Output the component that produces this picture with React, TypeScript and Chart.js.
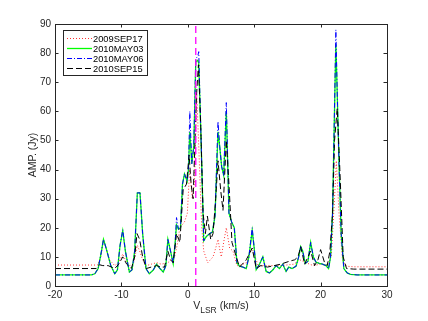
import React, { useEffect, useRef } from 'react';
import { Chart, registerables } from 'chart.js';

Chart.register(...registerables);

// ---------- data ----------
const seriesLabels = ['2009SEP17', '2010MAY03', '2010MAY06', '2010SEP15'];
const xTicks = [-20, -10, 0, 10, 20, 30];
const yTicks = [0, 10, 20, 30, 40, 50, 60, 70, 80, 90];
const referenceVelocity = 1.2;

const velSep17 = [-20, -13.6, -13.1, -12.7, -12.3, -11.8, -11.0, -10.4, -9.8, -9.2, -8.75, -8.2, -7.6, -7.25, -6.8, -6.25, -5.5, -4.7, -4.0, -3.0, -2.0, -1.6, -1.2, -0.5, -0.07, 0.28, 0.68, 1.0, 1.35, 1.78, 2.1, 2.4, 3.0, 3.8, 4.2, 4.55, 4.85, 5.05, 5.4, 5.8, 6.3, 6.8, 7.4, 7.8, 8.8, 9.67, 10.6, 12, 14, 16, 16.85, 17.8, 18.9, 20, 20.9, 21.6, 22.1, 22.37, 22.77, 23.3, 23.9, 25, 30];
const ampSep17 = [7.2, 7.2, 10, 16, 13, 9, 7, 8, 11, 8, 7, 7.5, 14, 12, 9, 7, 7.5, 8, 7.5, 8, 10, 14, 20, 22, 25, 40, 30, 35, 66, 40, 20, 12, 8, 10, 13, 16, 12, 10, 15, 20, 13, 12, 7, 7, 8, 13, 7, 7, 7, 7.5, 9, 8, 7, 7.5, 7, 10, 30, 43, 25, 9, 6.8, 6.6, 6.6];

const velMay = [-20, -14.5, -14.0, -13.5, -13.0, -12.7, -12.3, -11.6, -11.0, -10.6, -10.2, -9.8, -9.4, -8.8, -8.4, -8.0, -7.6, -7.2, -6.8, -6.3, -5.8, -5.2, -4.7, -4.2, -3.7, -3.3, -3.0, -2.6, -2.2, -1.9, -1.7, -1.4, -1.1, -0.8, -0.5, -0.1, 0.1, 0.3, 0.6, 0.9, 1.2, 1.5, 1.65, 2.0, 2.4, 2.8, 3.3, 3.7, 4.1, 4.55, 4.8, 5.1, 5.4, 5.8, 6.2, 6.6, 7.0, 7.4, 7.8, 8.3, 8.8, 9.2, 9.7, 10.0, 10.3, 10.8, 11.3, 11.8, 12.3, 12.8, 13.3, 13.8, 14.3, 14.8, 15.2, 15.7, 16.3, 16.7, 17.0, 17.3, 17.7, 18.1, 18.5, 18.9, 19.3, 19.8, 20.3, 20.8, 21.2, 21.5, 21.8, 22.05, 22.3, 22.55, 22.8, 23.1, 23.5, 24.0, 24.5, 25.5, 30];
const ampMay03 = [3.8, 3.8, 4.2, 6, 12, 16, 13, 7, 4.2, 5.5,
  14, 19, 12, 4.8, 5.5, 12, 32, 32, 18, 6,
  4.2, 5.5, 7.5, 6, 4.8, 7, 16, 12, 7.7, 15,
  21, 19.5, 20, 35, 38.5, 36, 40, 53, 42, 48,
  77, 77.5, 76.5, 50, 15.5, 17, 18, 18.5, 24, 53,
  48, 41, 38, 60, 25, 22, 20, 8, 6.8, 6.5,
  6, 10, 19, 13, 5.6, 7.5, 10, 5, 4.5, 5.5,
  7, 6, 7.5, 5, 6.5, 6, 6.8, 10, 13.5, 12,
  7.7, 8.5, 15, 10, 8.2, 7.8, 7.5, 7, 6, 10,
  25, 55, 83, 62, 40, 18, 6, 4.5, 4, 3.8,
  3.8];
const ampMay06 = [3.8, 3.8, 4.2, 6, 12, 16, 13, 7, 4.2, 5.5,
  14, 19.3, 12, 4.8, 5.5, 12, 32, 32, 18, 6,
  4.2, 5.5, 7.5, 6, 4.8, 7, 16, 12, 7.7, 15,
  23.5, 19.5, 20, 35, 38.5, 36, 40, 60, 42, 48,
  78, 79, 80.5, 50, 15.5, 17, 18, 18.5, 24, 56.5,
  48, 41, 38, 63, 25, 22, 20, 8, 6.8, 6.5,
  6, 10, 20, 13, 5.6, 7.5, 10, 5, 4.5, 5.5,
  7, 6, 7.5, 5, 6.5, 6, 6.8, 10, 13.5, 12,
  7.7, 8.5, 15, 10, 8.2, 7.8, 7.5, 7, 6, 10,
  25, 55, 88, 62, 40, 18, 6, 4.5, 4, 3.8,
  3.8];

const velSep15 = [-20, -13.8, -13.3, -12.8, -12.0, -11.0, -10.4, -9.8, -9.2, -8.5, -8.0, -7.65, -7.25, -6.8, -6.25, -5.5, -4.7, -4.0, -3.5, -3.0, -2.6, -2.2, -1.7, -1.2, -0.7, -0.2, 0.2, 0.5, 0.8, 1.3, 1.6, 1.95, 2.3, 2.65, 2.95, 3.45, 3.8, 4.2, 4.55, 4.95, 5.3, 5.8, 6.2, 6.65, 7.3, 7.8, 8.8, 9.7, 10.3, 11.0, 12.0, 13.0, 14.0, 15.3, 16.1, 16.6, 17.0, 17.6, 18.5, 19.1, 19.6, 20.0, 20.6, 21.0, 21.4, 21.8, 22.1, 22.5, 22.9, 23.4, 23.9, 25, 30];
const ampSep15 = [6, 6, 7.3, 7, 7, 6, 7.5, 10, 7.5, 6, 10, 18, 16, 10, 6, 6.5, 7, 6.5, 6.5, 12, 9, 8, 18, 15, 33, 35, 45, 35, 30, 65, 76, 55, 25, 18, 24, 16, 18, 30, 43, 33, 26, 50, 35, 15, 10, 6.5, 9, 13, 6, 7, 6.5, 7, 7.5, 8.5, 9, 10, 13.5, 7.5, 12, 7, 9, 12.5, 8, 7, 12, 25, 50, 61, 40, 10, 6, 5.8, 5.8];

// ---------- styling ----------
const AXIS_COLOR = '#262626';
const FONT = '"Liberation Sans", Arial, Helvetica, sans-serif';

const pts = (v: number[], a: number[]) => v.map((x, i) => ({ x, y: a[i] }));

const axesPlugin = {
  id: 'matlabAxes',
  afterDraw(chart: any) {
    const { ctx, chartArea: ca, scales } = chart;
    const xs = scales.x;
    const ys = scales.y;
    ctx.save();
    // box
    ctx.strokeStyle = AXIS_COLOR;
    ctx.lineWidth = 1;
    ctx.setLineDash([]);
    ctx.strokeRect(Math.round(ca.left) + 0.5, Math.round(ca.top) + 0.5, Math.round(ca.right - ca.left), Math.round(ca.bottom - ca.top));
    // ticks (inward)
    const tl = 3.5;
    ctx.beginPath();
    xTicks.forEach((t) => {
      const px = Math.round(xs.getPixelForValue(t)) + 0.5;
      ctx.moveTo(px, ca.bottom);
      ctx.lineTo(px, ca.bottom - tl);
      ctx.moveTo(px, ca.top);
      ctx.lineTo(px, ca.top + tl);
    });
    yTicks.forEach((t) => {
      const py = Math.round(ys.getPixelForValue(t)) + 0.5;
      ctx.moveTo(ca.left, py);
      ctx.lineTo(ca.left + tl, py);
      ctx.moveTo(ca.right, py);
      ctx.lineTo(ca.right - tl, py);
    });
    ctx.stroke();

    // y title
    ctx.fillStyle = AXIS_COLOR;
    ctx.font = `10.5px ${FONT}`;
    ctx.textAlign = 'center';
    ctx.textBaseline = 'middle';
    ctx.save();
    ctx.translate(33, (ca.top + ca.bottom) / 2);
    ctx.rotate(-Math.PI / 2);
    ctx.fillText('AMP. (Jy)', 0, 0);
    ctx.restore();

    // x title with subscript
    const main = 'V';
    const sub = 'LSR';
    const rest = ' (km/s)';
    ctx.textAlign = 'left';
    ctx.textBaseline = 'alphabetic';
    ctx.font = `10.5px ${FONT}`;
    const wMain = ctx.measureText(main).width;
    const wRest = ctx.measureText(rest).width;
    ctx.font = `8.5px ${FONT}`;
    const wSub = ctx.measureText(sub).width;
    const total = wMain + wSub + wRest;
    let x0 = (ca.left + ca.right) / 2 - total / 2;
    const base = 309;
    ctx.font = `10.5px ${FONT}`;
    ctx.fillText(main, x0, base);
    x0 += wMain;
    ctx.font = `8.5px ${FONT}`;
    ctx.fillText(sub, x0, base + 4);
    x0 += wSub;
    ctx.font = `10.5px ${FONT}`;
    ctx.fillText(rest, x0, base);

    // legend
    const lx = 63.5, ly = 30.5, lw = 84, lh = 45;
    ctx.fillStyle = '#ffffff';
    ctx.fillRect(lx, ly, lw, lh);
    ctx.strokeStyle = AXIS_COLOR;
    ctx.lineWidth = 1;
    ctx.strokeRect(lx, ly, lw, lh);
    ctx.font = `9.3px ${FONT}`;
    ctx.textBaseline = 'middle';
    ctx.textAlign = 'left';
    const datasets = chart.data.datasets.slice(0, 4);
    datasets.forEach((ds: any, i: number) => {
      const yy = Math.round(37.5 + i * 10.3) + 0.5;
      ctx.strokeStyle = ds.borderColor;
      ctx.lineWidth = ds.borderWidth;
      ctx.setLineDash(ds.borderDash || []);
      ctx.beginPath();
      ctx.moveTo(67, yy);
      ctx.lineTo(92, yy);
      ctx.stroke();
      ctx.setLineDash([]);
      ctx.fillStyle = '#000000';
      ctx.fillText(ds.label, 93, yy + 0.5);
    });
    ctx.restore();
  },
};

export default function App() {
  const canvasRef = useRef<HTMLCanvasElement | null>(null);

  useEffect(() => {
    if (!canvasRef.current) return;
    const chart = new Chart(canvasRef.current, {
      type: 'line',
      data: {
        datasets: [
          {
            label: seriesLabels[0],
            data: pts(velSep17, ampSep17),
            borderColor: '#ff3030',
            borderWidth: 1,
            borderDash: [1, 2],
            pointRadius: 0,
            tension: 0,
            order: 4,
          },
          {
            label: seriesLabels[1],
            data: pts(velMay, ampMay03),
            borderColor: '#00ff00',
            borderWidth: 1.3,
            pointRadius: 0,
            tension: 0,
            order: 3,
          },
          {
            label: seriesLabels[2],
            data: pts(velMay, ampMay06),
            borderColor: '#0000ff',
            borderWidth: 1,
            borderDash: [5, 2, 1, 2],
            pointRadius: 0,
            tension: 0,
            order: 2,
          },
          {
            label: seriesLabels[3],
            data: pts(velSep15, ampSep15),
            borderColor: '#000000',
            borderWidth: 1,
            borderDash: [6, 3],
            pointRadius: 0,
            tension: 0,
            order: 1,
          },
          {
            label: 'ref',
            data: [
              { x: referenceVelocity, y: yTicks[0] },
              { x: referenceVelocity, y: yTicks[yTicks.length - 1] },
            ],
            borderColor: '#ff00ff',
            borderWidth: 1.3,
            borderDash: [7, 4],
            pointRadius: 0,
            order: 0,
          },
        ],
      },
      options: {
        animation: false,
        responsive: false,
        maintainAspectRatio: false,
        layout: { padding: { left: 0, right: 41, top: 24, bottom: 0 } },
        plugins: {
          legend: { display: false },
          tooltip: { enabled: false },
          title: { display: false },
        },
        scales: {
          x: {
            type: 'linear',
            min: xTicks[0],
            max: xTicks[xTicks.length - 1],
            grid: { display: false, drawTicks: false },
            border: { display: false },
            afterBuildTicks: (scale: any) => {
              scale.ticks = xTicks.map((v) => ({ value: v }));
            },
            afterFit: (scale: any) => {
              scale.height = 35;
            },
            ticks: {
              color: AXIS_COLOR,
              font: { family: FONT, size: 10 },
              padding: 3,
              maxRotation: 0,
            },
          },
          y: {
            type: 'linear',
            min: yTicks[0],
            max: yTicks[yTicks.length - 1],
            grid: { display: false, drawTicks: false },
            border: { display: false },
            afterBuildTicks: (scale: any) => {
              scale.ticks = yTicks.map((v) => ({ value: v }));
            },
            afterFit: (scale: any) => {
              scale.width = 55;
            },
            ticks: {
              color: AXIS_COLOR,
              font: { family: FONT, size: 10 },
              padding: 4,
            },
          },
        },
      },
      plugins: [axesPlugin],
    } as any);
    return () => chart.destroy();
  }, []);

  return (
    <div style={{ position: 'absolute', left: 0, top: 0, width: 428, height: 321, background: '#fff' }}>
      <canvas ref={canvasRef} width={428} height={321} />
    </div>
  );
}
